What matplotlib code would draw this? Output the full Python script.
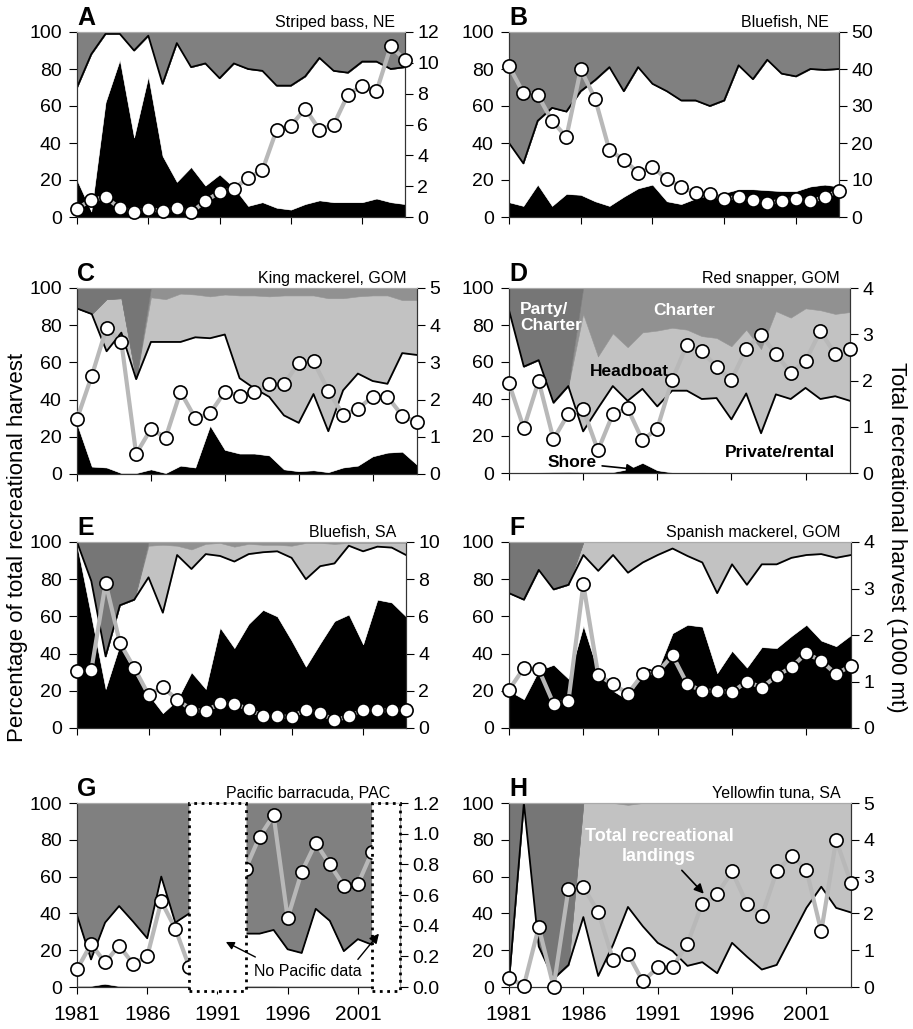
import numpy as np
import matplotlib.pyplot as plt
import matplotlib.transforms as mtransforms
from matplotlib.patches import Rectangle

plt.rcParams['font.family'] = ['Liberation Sans', 'DejaVu Sans']

nan = np.nan
years = np.arange(1981, 2005)
zeros = [0] * 24

# percentages by mode (shore, private/rental, headboat, charter, party/charter)
# A - Striped bass, NE
a_shore = [20, 3, 62, 85, 43, 76, 33, 19, 27, 17, 23, 16, 6, 8, 5, 4, 7, 9, 8, 8, 8, 10, 8, 7]
a_private = [50, 85, 37, 14, 47, 22, 39, 75, 54, 66, 52, 67, 74, 71, 66, 67, 69, 77, 71, 70, 76, 74, 72, 74]
a_party = [30, 12, 1, 1, 10, 2, 28, 6, 19, 17, 25, 17, 20, 21, 29, 29, 24, 14, 21, 22, 16, 16, 20, 19]
a_total = [0.52, 1.12, 1.28, 0.58, 0.32, 0.54, 0.37, 0.56, 0.30, 1.02, 1.62, 1.84,
           2.53, 3.03, 5.66, 5.92, 7.03, 5.66, 5.99, 7.94, 8.52, 8.15, 11.07, 10.2]

# B - Bluefish, NE
b_shore = [8, 6, 17.5, 6, 12.5, 12, 8.5, 6, 11, 15.5, 17.5, 8.5, 7, 10, 12, 13, 15, 15, 14.5, 14, 14, 16.5, 17.5, 16.5]
b_private = [32, 23, 34.5, 53, 44.5, 56, 65.5, 75, 57, 65.5, 54.5, 59.5, 56, 53, 48, 50, 67, 59.5, 70.5, 63.5, 62, 63.5, 62, 63.5]
b_party = [60, 71, 48, 41, 43, 32, 26, 19, 32, 19, 28, 32, 37, 37, 40, 37, 18, 25.5, 15, 22.5, 24, 20, 20.5, 20]
b_total = [40.8, 33.5, 33, 26, 21.6, 39.9, 32, 18, 15.5, 12, 13.6, 10.2,
           8.2, 6.4, 6.2, 4.9, 5.4, 4.5, 3.75, 4.4, 4.9, 4.2, 5.4, 7.1]

# C - King mackerel, GOM
c_shore = [27, 4, 3.5, 0.5, 0.5, 2.5, 0.5, 4.5, 3.5, 26, 13, 11, 11, 10, 2.5, 1.5, 2, 1, 3.5, 4.5, 9.5, 11.5, 12, 5]
c_private = [62, 82, 62.5, 75.5, 50.5, 68.5, 70.5, 66.5, 70, 47, 62, 40.5, 35, 31.5, 29, 26, 41, 22, 41.5, 49.5, 40.5, 37, 53, 59]
c_headboat = [0, 0, 28, 18.5, 0, 24, 23, 26, 23, 22.5, 21.5, 44.5, 50, 54, 64.5, 68.5, 53, 71.5, 49.5, 41.5, 46, 47.5, 28.5, 29.5]
c_charter = [0, 0, 0, 0, 0, 5, 6, 3, 3.5, 4.5, 3.5, 4, 4, 4.5, 4, 4, 4, 5.5, 5.5, 4.5, 4, 4, 6.5, 6.5]
c_party = [11, 14, 6, 5.5, 49, 0, 0, 0, 0, 0, 0, 0, 0, 0, 0, 0, 0, 0, 0, 0, 0, 0, 0, 0]
c_total = [1.48, 2.64, 3.93, 3.55, 0.54, 1.21, 0.98, 2.21, 1.5, 1.63, 2.21, 2.1,
           2.2, 2.42, 2.42, 2.99, 3.03, 2.24, 1.59, 1.75, 2.08, 2.08, 1.57, 1.39]

# D - Red snapper, GOM
d_shore = [0, 0.2, 0.3, 0.5, 0.6, 0.5, 0.5, 0.5, 2, 5.5, 1.5, 0.3, 0.2, 0.3, 0.2, 0.2, 0.2, 0.1, 0.1, 0.1, 0.1, 0.1, 0.1, 0.1]
d_private = [88, 57.3, 60.7, 37.5, 46.4, 22, 34.5, 46.5, 37, 40, 34.5, 44.2, 44.3, 39.7, 40.3, 28.8, 42.8, 21.4, 42.4, 39.9, 45.9, 39.9, 41.4, 38.9]
d_headboat = [0, 0, 0, 0, 0, 63.5, 28, 28.5, 29, 30.5, 41, 34, 33, 34, 32.5, 39.5, 34.5, 45.5, 45, 44, 43, 48, 44.5, 48]
d_charter = [0, 0, 0, 0, 0, 14, 37, 24.5, 32, 24, 23, 21.5, 22.5, 26, 27, 31.5, 22.5, 33, 12.5, 16, 11, 12, 14, 13]
d_party = [12, 42.5, 39, 62, 53, 0, 0, 0, 0, 0, 0, 0, 0, 0, 0, 0, 0, 0, 0, 0, 0, 0, 0, 0]
d_total = [1.94, 0.97, 1.99, 0.73, 1.28, 1.38, 0.49, 1.27, 1.40, 0.71, 0.96, 2.01,
           2.77, 2.63, 2.30, 2.01, 2.68, 2.99, 2.57, 2.17, 2.42, 3.07, 2.57, 2.68]

# E - Bluefish, SA
e_shore = [98.5, 60, 21, 45, 30, 18, 8, 15, 30, 21, 54, 43, 56, 63.5, 60, 47, 33, 45.5, 57.5, 61, 45, 69, 67.5, 60]
e_private = [1.5, 19, 17.5, 21, 39, 63, 54, 78, 55.5, 72.5, 38.5, 46.5, 37.5, 31, 35, 44.5, 47, 41.5, 31, 37, 50, 28.5, 29.5, 33]
e_headboat = [0, 0, 0, 0, 0, 17, 36.5, 5, 10.5, 5.5, 7, 8, 5.5, 4, 3.5, 6.5, 19.5, 12.5, 10.5, 1.5, 4.5, 2, 2.5, 6.5]
e_charter = [0, 0, 0, 0, 0, 2, 1.5, 2, 4, 1, 0.5, 2.5, 1, 1.5, 1.5, 2, 0.5, 0.5, 1, 0.5, 0.5, 0.5, 0.5, 0.5]
e_party = [0, 21, 61.5, 34, 31, 0, 0, 0, 0, 0, 0, 0, 0, 0, 0, 0, 0, 0, 0, 0, 0, 0, 0, 0]
e_total = [3.05, 3.1, 7.8, 4.57, 3.23, 1.79, 2.2, 1.52, 0.99, 0.9, 1.34, 1.29,
           1.02, 0.63, 0.63, 0.59, 0.99, 0.81, 0.41, 0.63, 0.95, 0.95, 0.95, 0.99]

# F - Spanish mackerel, GOM
f_shore = [20, 15.5, 31, 34, 26.5, 55, 30, 20, 15, 33, 31, 51, 55.5, 54.5, 29.5, 41.5, 32.5, 43.5, 43, 49.5, 55.5, 47, 44, 50]
f_private = [52.5, 53.5, 54, 40.5, 50.5, 38, 54.5, 73, 68.5, 56, 62, 45.5, 37, 34.5, 43, 46.5, 44.5, 44.5, 45, 42, 37.5, 46.5, 47.5, 43]
f_headboat = [0, 0, 0, 0, 0, 7, 15.5, 7, 16.5, 11, 7, 3.5, 7.5, 11, 27.5, 12, 23, 12, 12, 8.5, 7, 6.5, 8.5, 7]
f_party = [27.5, 31, 15, 25.5, 23, 0, 0, 0, 0, 0, 0, 0, 0, 0, 0, 0, 0, 0, 0, 0, 0, 0, 0, 0]
f_total = [0.82, 1.29, 1.26, 0.52, 0.59, 3.09, 1.14, 0.94, 0.74, 1.16, 1.2, 1.56,
           0.94, 0.8, 0.8, 0.77, 1.0, 0.87, 1.12, 1.31, 1.61, 1.44, 1.16, 1.34]

# G - Pacific barracuda, PAC (no data 1990-1992, 2003-2004)
g_shore = [0.3, 0.3, 1.5, 0.3, 0.2, 0.2, 0.2, 0.2, 0.2, nan, nan, nan, 0.3, 0.3, 0.3, 0.2, 0.2, 0.2, 0.2, 0.2, 0.2, 0.2, nan, nan]
g_private = [38.7, 14.7, 33.5, 43.7, 35.3, 26.3, 59.8, 34.8, 39.8, nan, nan, nan, 28.7, 28.7, 30.7, 20.3, 18.3, 42.3, 35.8, 19.3, 25.8, 22.8, nan, nan]
g_party = [61, 85, 65, 56, 64.5, 73.5, 40, 65, 60, nan, nan, nan, 71, 71, 69, 79.5, 81.5, 57.5, 64, 80.5, 74, 77, nan, nan]
g_total = [0.115, 0.28, 0.16, 0.27, 0.15, 0.2, 0.56, 0.38, 0.13, nan, nan, nan,
           0.77, 0.98, 1.12, 0.45, 0.75, 0.94, 0.8, 0.66, 0.67, 0.88, nan, nan]

# H - Yellowfin tuna, SA
h_shore = [0.2] * 24
h_private = [2.8, 99.8, 21.8, 4.3, 11.8, 37.8, 5.8, 22.8, 43.3, 32.8, 23.8, 19.3, 11.3, 13.3, 7.3, 23.8, 16.3, 9.3, 11.8, 27.3, 42.8, 54.3, 42.8, 40.3]
h_headboat = [0, 0, 0, 0, 0, 62, 94, 77, 55.5, 67, 76, 80.5, 88.5, 86.5, 92.5, 76, 83.5, 90.5, 88, 72.5, 57, 45.5, 57, 59.5]
h_charter = [0, 0, 0, 0, 0, 0, 0, 0, 1, 0, 0, 0, 0, 0, 0, 0, 0, 0, 0, 0, 0, 0, 0, 0]
h_party = [97, 0, 78, 95.5, 88, 0, 0, 0, 0, 0, 0, 0, 0, 0, 0, 0, 0, 0, 0, 0, 0, 0, 0, 0]
h_total = [0.25, 0.03, 1.63, 0.0, 2.67, 2.72, 2.04, 0.74, 0.91, 0.15, 0.53, 0.53,
           1.18, 2.26, 2.52, 3.14, 2.26, 1.93, 3.14, 3.56, 3.19, 1.51, 3.99, 2.83]

W, H = 913, 1029
fig = plt.figure(figsize=(W / 100, H / 100), dpi=100)


def rect(x0, x1, y0, y1):
    return [x0 / W, 1 - y1 / H, (x1 - x0) / W, (y1 - y0) / H]


HEADBOAT = '#c2c2c2'
CHARTER = '#919191'
PARTY = '#767676'


def panel(r, letter, title, shore, private, headboat, charter, party, total,
          rmax, rstep, rfmt, party_col=PARTY, xlabels=False):
    ax = fig.add_axes(r)
    ax.stackplot(years, shore, private, headboat, charter, party,
                 colors=['black', 'white', HEADBOAT, CHARTER, party_col],
                 linewidth=0.4, edgecolor='face')
    ax.plot(years, np.array(shore) + np.array(private), color='black', lw=1.3)
    ax.set_xlim(1981, 2004)
    ax.set_ylim(0, 100)
    ax.set_yticks(range(0, 101, 20))
    ax.set_xticks([1981, 1986, 1991, 1996, 2001])
    ax.tick_params(axis='y', direction='out', length=6, width=0.8, labelsize=14, pad=5)
    ax.tick_params(axis='x', direction='out', length=5, width=0.8, labelsize=15, pad=8,
                   labelbottom=xlabels)
    ax.text(0.0, 1.01, letter, transform=ax.transAxes, fontsize=18,
            fontweight='bold', ha='left', va='bottom')
    ax.text(0.97, 1.012, title, transform=ax.transAxes, fontsize=11.5,
            ha='right', va='bottom')

    ax2 = ax.twinx()
    ax2.plot(years, total, '-o', color='#b8b8b8', lw=3, ms=9.5, mfc='white',
             mec='black', mew=1.2, clip_on=False, zorder=3)
    ax2.set_ylim(0, rmax)
    ax2.set_yticks(np.arange(0, rmax + rstep / 2, rstep))
    ax2.set_yticklabels([rfmt.format(v) for v in np.arange(0, rmax + rstep / 2, rstep)])
    ax2.tick_params(axis='y', direction='out', length=6, width=0.8, labelsize=14, pad=3)
    for a in (ax, ax2):
        for s in ('left', 'right', 'bottom'):
            a.spines[s].set_color('#333333')
            a.spines[s].set_linewidth(0.8)
        a.spines['top'].set_color('#aaaaaa')
        a.spines['top'].set_linewidth(0.8)
    return ax, ax2


panel(rect(77, 405, 32, 217), 'A', 'Striped bass, NE', a_shore, a_private, zeros, zeros,
      a_party, a_total, 12, 2, '{:.0f}', party_col='#808080')
panel(rect(509, 839, 32, 217), 'B', 'Bluefish, NE', b_shore, b_private, zeros, zeros,
      b_party, b_total, 50, 10, '{:.0f}', party_col='#808080')
panel(rect(77, 417, 288, 474), 'C', 'King mackerel, GOM', c_shore, c_private, c_headboat,
      c_charter, c_party, c_total, 5, 1, '{:.0f}')
axd, axd2 = panel(rect(509, 850, 288, 473), 'D', 'Red snapper, GOM', d_shore, d_private,
                  d_headboat, d_charter, d_party, d_total, 4, 1, '{:.0f}')
panel(rect(77, 406, 542, 728), 'E', 'Bluefish, SA', e_shore, e_private, e_headboat,
      e_charter, e_party, e_total, 10, 2, '{:.0f}')
panel(rect(509, 851, 542, 728), 'F', 'Spanish mackerel, GOM', f_shore, f_private, f_headboat,
      zeros, f_party, f_total, 4, 1, '{:.0f}')
axg, axg2 = panel(rect(77, 400, 803, 987), 'G', 'Pacific barracuda, PAC', g_shore, g_private,
                  zeros, zeros, g_party, g_total, 1.2, 0.2, '{:.1f}', party_col='#808080',
                  xlabels=True)
axh, axh2 = panel(rect(509, 851, 803, 987), 'H', 'Yellowfin tuna, SA', h_shore, h_private,
                  h_headboat, h_charter, h_party, h_total, 5, 1, '{:.0f}', xlabels=True)

# panel D labels
bold = dict(fontsize=12.5, fontweight='bold', zorder=12)
tr = mtransforms.blended_transform_factory(axd2.transData, axd2.transAxes)
axd2.text(1981.75, 0.84, 'Party/\nCharter', transform=tr, color='white', ha='left',
          va='center', linespacing=1.1, **bold)
axd2.text(1992.8, 0.88, 'Charter', transform=tr, color='white', ha='center', va='center', **bold)
axd2.text(1989.1, 0.55, 'Headboat', transform=tr, color='black', ha='center', va='center', **bold)
axd2.text(1999.3, 0.11, 'Private/rental', transform=tr, color='black', ha='center',
          va='center', **bold)
axd2.annotate('Shore', xy=(1989.55, 0.02), xycoords=('data', 'axes fraction'),
              xytext=(1985.25, 0.055), textcoords=('data', 'axes fraction'),
              ha='center', va='center',
              arrowprops=dict(arrowstyle='-|>', color='black', lw=1.2, mutation_scale=13,
                              shrinkA=2, shrinkB=0), **bold)

# panel G no-data boxes
trg = mtransforms.blended_transform_factory(axg2.transData, axg2.transAxes)
for x0, w in [(1989, 4), (2002, 2)]:
    axg2.add_patch(Rectangle((x0, -0.02), w, 1.02, transform=trg, facecolor='white',
                             edgecolor='black', linestyle=':', lw=2, zorder=10, clip_on=False))
axg2.text(1997.4, 0.082, 'No Pacific data', transform=trg, fontsize=11.5, ha='center',
          va='center', zorder=12)
axg2.annotate('', xy=(1991.6, 0.245), xycoords=('data', 'axes fraction'),
              xytext=(1993.7, 0.163), textcoords=('data', 'axes fraction'),
              arrowprops=dict(arrowstyle='-|>', color='black', lw=1, mutation_scale=12,
                              shrinkA=0, shrinkB=0), zorder=12)
axg2.annotate('', xy=(2002.5, 0.29), xycoords=('data', 'axes fraction'),
              xytext=(2001.0, 0.15), textcoords=('data', 'axes fraction'),
              arrowprops=dict(arrowstyle='-|>', color='black', lw=1, mutation_scale=14,
                              shrinkA=0, shrinkB=0), zorder=12)

# panel H label
axh2.annotate('Total recreational\nlandings', xy=(1994.1, 0.507), xycoords=('data', 'axes fraction'),
              xytext=(1991.1, 0.765), textcoords=('data', 'axes fraction'),
              ha='center', va='center', color='white', fontsize=13, fontweight='bold',
              linespacing=1.2, zorder=12,
              arrowprops=dict(arrowstyle='-|>', color='black', lw=1.2, mutation_scale=14,
                              shrinkA=3, shrinkB=0))

fig.text(0.019, 0.468, 'Percentage of total recreational harvest', rotation=90,
         ha='center', va='center', fontsize=16)
fig.text(0.982, 0.478, 'Total recreational harvest (1000 mt)', rotation=270,
         ha='center', va='center', fontsize=16)

fig.savefig('out.png', dpi=100)
